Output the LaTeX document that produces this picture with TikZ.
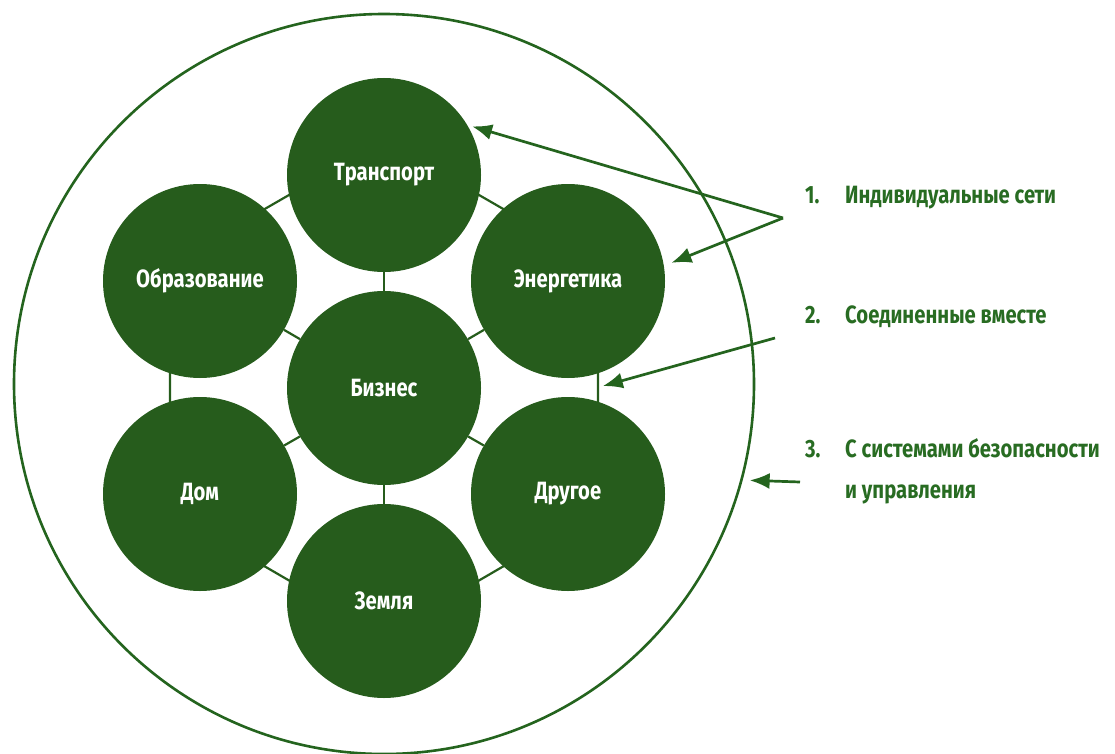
\documentclass[tikz,border=0pt]{standalone}
\usepackage{fontspec}
\setmainfont{Fira Sans}[FakeStretch=0.81]
\usetikzlibrary{calc,arrows.meta,backgrounds}
\definecolor{dg}{RGB}{38,92,28}
\definecolor{lg}{RGB}{36,100,30}
\definecolor{tg}{RGB}{40,108,34}
\begin{document}
\begin{tikzpicture}[x=1pt,y=-1pt,
  bub/.style={circle, fill=dg, minimum size=194pt, inner sep=0pt, text=white,
    font=\bfseries\fontsize{25}{28}\selectfont},
  conn/.style={draw=dg, line width=2.2pt},
  arr/.style={draw=lg, line width=2.7pt, -{Latex[length=20pt,width=16pt]}},
  lbl/.style={anchor=base west, text=tg, inner sep=0pt,
    font=\bfseries\fontsize{25}{28}\selectfont}]
\useasboundingbox (0,0) rectangle (1115,754);
\node[circle, draw=lg, line width=2.6pt, minimum size=740pt, inner sep=0pt] (outer) at (384,384) {};
\node[bub] (biz)   at (384,388) {Бизнес};
\node[bub] (trans) at (384,175) {Транспорт};
\node[bub] (earth) at (384,601) {Земля};
\node[bub] (edu)   at (200,281) {Образование};
\node[bub] (ener)  at (568,281) {Энергетика};
\node[bub] (home)  at (200,494) {Дом};
\node[bub] (other) at (568,494) {Другое};
\begin{scope}[on background layer]
  \fill[white] (0,0) rectangle (1115,754);
  \foreach \n in {trans,earth,edu,ener,home,other}{\draw[conn] (biz) -- (\n);}
  \draw[conn] ($(biz)!1.163!(trans)$) -- ($(biz)!1.163!(ener)$) -- ($(biz)!1.163!(other)$)
    -- ($(biz)!1.163!(earth)$) -- ($(biz)!1.163!(home)$) -- ($(biz)!1.163!(edu)$) -- cycle;
\end{scope}
\coordinate (eo) at ($($(biz)!1.163!(ener)$)!0.5!($(biz)!1.163!(other)$)$);
\coordinate (a1) at (783,218);
\coordinate (a2) at (775,338);
\coordinate (a3) at (800,482);
\draw[arr, shorten >=5pt] (a1) -- (trans.31);
\draw[arr, shorten >=8pt] (a1) -- (ener.9);
\draw[arr, shorten >=5pt] (a2) -- (eo);
\draw[arr, shorten >=7pt] (a3) -- (outer.-15.2);
\node[lbl] (l1) at (805,204) {\makebox[40pt][l]{1.}Индивидуальные сети};
\node[lbl] (l2) at (805,323) {\makebox[40pt][l]{2.}Соединенные вместе};
\node[lbl] (l3) at (805,457) {\makebox[40pt][l]{3.}С системами безопасности};
\node[lbl] (l4) at (845,498) {и управления};
\end{tikzpicture}
\end{document}
